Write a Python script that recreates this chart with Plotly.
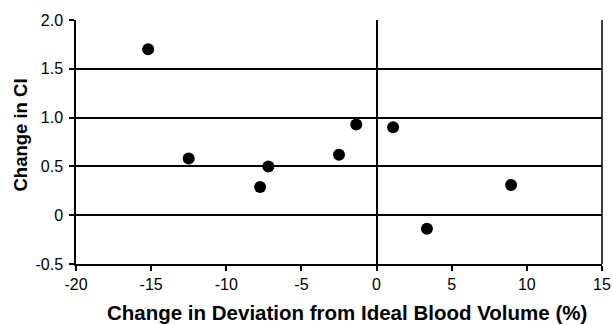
import plotly.graph_objects as go

x_vals = [-15.2, -12.5, -7.75, -7.2, -2.5, -1.35, 1.1, 3.35, 8.95]
y_vals = [1.70, 0.58, 0.29, 0.50, 0.62, 0.93, 0.90, -0.14, 0.31]

x_ticks = [-20, -15, -10, -5, 0, 5, 10, 15]
x_tick_text = ["-20", "-15", "-10", "-5", "0", "5", "10", "15"]
y_ticks = [-0.5, 0, 0.5, 1.0, 1.5, 2.0]
y_tick_text = ["-0.5", "0", "0.5", "1.0", "1.5", "2.0"]

x_title = "Change in Deviation from Ideal Blood Volume (%)"
y_title = "Change in CI"

fig = go.Figure()
fig.add_trace(go.Scatter(
    x=x_vals, y=y_vals, mode="markers",
    marker=dict(color="black", size=12, line=dict(width=0)),
    showlegend=False, cliponaxis=False,
))

font_family = "Liberation Sans, Arial, sans-serif"
L, R, T, B = 76, 10, 20, 61
W, H = 612, 325
pw, ph = W - L - R, H - T - B

fig.update_layout(
    width=W, height=H,
    margin=dict(l=L, r=R, t=T, b=B, autoexpand=False),
    paper_bgcolor="white", plot_bgcolor="white",
    font=dict(family=font_family, color="black", size=16),
    xaxis=dict(
        range=[-20, 15], tickvals=x_ticks, ticktext=x_tick_text,
        showgrid=False, zeroline=True, zerolinecolor="black", zerolinewidth=1.5,
        showline=True, linecolor="black", linewidth=1.5, mirror=False,
        ticks="outside", ticklen=5, tickwidth=1.5, tickcolor="black",
        tickfont=dict(size=16), automargin=False,
    ),
    yaxis=dict(
        range=[-0.5, 2.0], tickvals=y_ticks, ticktext=y_tick_text,
        showgrid=True, gridcolor="black", gridwidth=1.5,
        zeroline=True, zerolinecolor="black", zerolinewidth=1.5,
        showline=True, linecolor="black", linewidth=1.5,
        ticks="outside", ticklen=5, tickwidth=1.5, tickcolor="black",
        tickfont=dict(size=16), automargin=False, ticklabelstandoff=3,
    ),
)
fig.add_annotation(text="<b>" + x_title + "</b>", xref="paper", yref="paper",
                   x=(347 - L) / pw, y=-(312 - (H - B)) / ph,
                   xanchor="center", yanchor="middle", showarrow=False,
                   font=dict(size=20.5))
fig.add_annotation(text="<b>" + y_title + "</b>", xref="paper", yref="paper",
                   x=(20 - L) / pw, y=((H - B) - 135.5) / ph, textangle=-90,
                   xanchor="center", yanchor="middle", showarrow=False,
                   font=dict(size=18.5))
# right border line
fig.add_shape(type="line", xref="paper", yref="paper", x0=1, x1=1, y0=0, y1=1,
              line=dict(color="black", width=1.5))

fig.write_html("out.html", config={"displayModeBar": False},
               post_script="document.body.style.margin='0';document.body.style.overflow='hidden';")
